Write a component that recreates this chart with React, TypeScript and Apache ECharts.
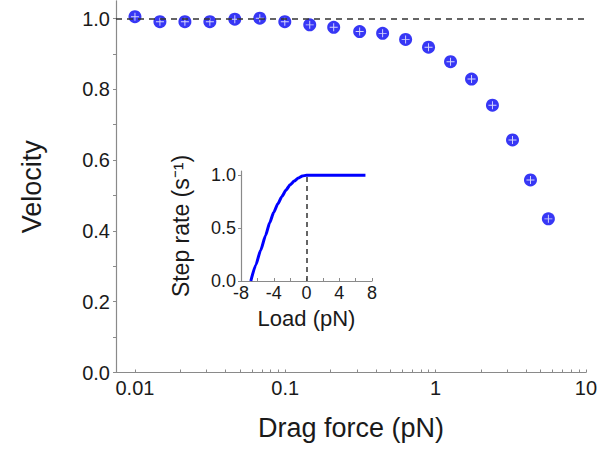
import React, { useEffect, useRef } from "react";
import * as echarts from "echarts";

// Main panel data: drag force (pN) vs normalized velocity
const dragForce = [0.01, 0.01466, 0.02149, 0.0315, 0.04617, 0.0677, 0.0993, 0.1455, 0.21, 0.3126, 0.4444, 0.632, 0.898, 1.258, 1.735, 2.39, 3.25, 4.28, 5.63];
const velocity = [1.005, 0.991, 0.991, 0.991, 0.998, 1.001, 0.991, 0.982, 0.975, 0.963, 0.958, 0.941, 0.919, 0.878, 0.829, 0.755, 0.657, 0.544, 0.434];

const xTickValues = [0.01, 0.1, 1, 10];
const xTickLabels = ["0.01", "0.1", "1", "10"];
const xMinorTicks = [0.02, 0.03, 0.04, 0.05, 0.06, 0.07, 0.08, 0.09, 0.2, 0.3, 0.4, 0.5, 0.6, 0.7, 0.8, 0.9, 2, 3, 4, 5, 6, 7, 8, 9];
const yTickValues = [0, 0.2, 0.4, 0.6, 0.8, 1.0];
const yMinorTicks = [0.1, 0.3, 0.5, 0.7, 0.9];

// Inset data: load (pN) vs step rate (s^-1)
const load = [-6.8, -6.2, -5.6, -5.0, -4.5, -4.0, -3.5, -3.0, -2.5, -2.0, -1.5, -1.0, -0.5, 0, 2, 4, 6, 7.2];
const stepRate = [0, 0.15, 0.29, 0.43, 0.55, 0.65, 0.73, 0.8, 0.86, 0.91, 0.945, 0.973, 0.992, 1.0, 1.0, 1.0, 1.0, 1.0];
const insetXTicks = [-8, -4, 0, 4, 8];
const insetXMinor = [-6, -2, 2, 6];
const insetYTicks = [0, 0.5, 1.0];

const FONT = "Liberation Sans, Arial, sans-serif";
const TXT = "#1a1a1a";
const AXIS = "#8a8a8a";
const BLUE = "#0505f2";

export default function App() {
  const ref = useRef<HTMLDivElement>(null);
  useEffect(() => {
    document.body.style.margin = "0";
    if (!ref.current) return;
    const chart = echarts.init(ref.current, undefined, { renderer: "svg" });
    const points = dragForce.map((x, i) => [x, velocity[i]]);
    const curve = load.map((x, i) => [x, stepRate[i]]);
    chart.setOption({
      animation: false,
      textStyle: { fontFamily: FONT },
      grid: [
        { left: 116, right: 13.5, top: 0.8, bottom: 79.5 },
        { left: 241, right: 228, top: 171, bottom: 171 },
      ],
      xAxis: [
        {
          type: "log",
          gridIndex: 0,
          logBase: 10,
          min: 0.00748,
          max: 10,
          name: "Drag force (pN)",
          nameLocation: "middle",
          nameGap: 42,
          nameTextStyle: { fontSize: 27, color: TXT, fontFamily: FONT },
          axisLine: { lineStyle: { color: AXIS, width: 1.2 } },
          axisTick: { inside: true, length: 3, customValues: [...xTickValues, ...xMinorTicks], lineStyle: { color: AXIS } },
          axisLabel: {
            customValues: xTickValues,
            formatter: (v: number) => {
              const i = xTickValues.findIndex((t) => Math.abs(Math.log10(t) - Math.log10(v)) < 1e-6);
              return i >= 0 ? xTickLabels[i] : "";
            },
            fontSize: 20,
            color: TXT,
            fontFamily: FONT,
            margin: 5,
          },
          splitLine: { show: false },
        },
        {
          type: "value",
          gridIndex: 1,
          min: -8,
          max: 8,
          interval: 4,
          name: "Load (pN)",
          nameLocation: "middle",
          nameGap: 26,
          nameTextStyle: { fontSize: 22, color: TXT, fontFamily: FONT },
          axisLine: { onZero: false, lineStyle: { color: AXIS, width: 1.2 } },
          axisTick: { inside: true, length: 3, customValues: [...insetXTicks, ...insetXMinor], lineStyle: { color: AXIS } },
          axisLabel: { fontSize: 18, color: TXT, fontFamily: FONT, margin: 3, customValues: insetXTicks },
          splitLine: { show: false },
        },
      ],
      yAxis: [
        {
          type: "value",
          gridIndex: 0,
          min: 0,
          max: 1.05,
          name: "Velocity",
          nameLocation: "middle",
          nameGap: 71,
          nameTextStyle: { fontSize: 27, color: TXT, fontFamily: FONT },
          axisLine: { show: true, lineStyle: { color: AXIS, width: 1.2 } },
          axisTick: { show: true, length: 3, customValues: [...yTickValues, ...yMinorTicks], lineStyle: { color: AXIS } },
          axisLabel: {
            customValues: yTickValues,
            formatter: (v: number) => v.toFixed(1),
            fontSize: 20,
            color: TXT,
            fontFamily: FONT,
            margin: 6,
          },
          splitLine: { show: false },
        },
        {
          type: "value",
          gridIndex: 1,
          min: 0,
          max: 1.04,
          name: "Step rate (s⁻¹)",
          nameLocation: "middle",
          nameGap: 49,
          nameTextStyle: { fontSize: 23, color: TXT, fontFamily: FONT },
          axisLine: { show: true, onZero: false, lineStyle: { color: AXIS, width: 1.2 } },
          axisTick: { show: true, length: 3, customValues: insetYTicks, lineStyle: { color: AXIS } },
          axisLabel: {
            customValues: insetYTicks,
            formatter: (v: number) => v.toFixed(1),
            fontSize: 18,
            color: TXT,
            fontFamily: FONT,
            margin: 5,
          },
          splitLine: { show: false },
        },
      ],
      series: [
        {
          type: "scatter",
          xAxisIndex: 0,
          yAxisIndex: 0,
          data: points,
          symbol: "circle",
          symbolSize: 13,
          itemStyle: { color: BLUE },
          z: 3,
          markLine: {
            silent: true,
            symbol: "none",
            label: { show: false },
            lineStyle: { color: "#333", width: 1.5, type: [6, 5] },
            data: [{ yAxis: 1 }],
          },
        },
        {
          type: "scatter",
          xAxisIndex: 0,
          yAxisIndex: 0,
          data: points,
          symbol: "path://M0,4.4H10V5.6H0Z M4.4,0H5.6V10H4.4Z",
          symbolSize: 8,
          itemStyle: { color: "#ffffff" },
          z: 4,
        },
        {
          type: "line",
          xAxisIndex: 1,
          yAxisIndex: 1,
          data: curve,
          smooth: 0.2,
          smoothMonotone: "x",
          showSymbol: false,
          lineStyle: { color: "#0000ff", width: 3 },
          markLine: {
            silent: true,
            symbol: "none",
            label: { show: false },
            lineStyle: { color: "#333", width: 1.5, type: [5, 4] },
            data: [[{ coord: [0, 0] }, { coord: [0, 1] }]],
          },
        },
      ],
    });
    return () => chart.dispose();
  }, []);
  return <div ref={ref} style={{ width: 600, height: 452 }} />;
}
